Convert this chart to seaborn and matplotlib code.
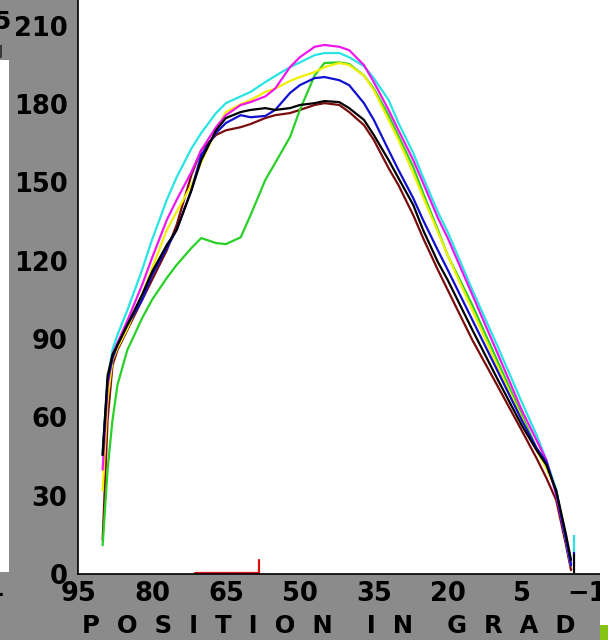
import numpy as np
import pandas as pd
import matplotlib
matplotlib.use("Agg")
import matplotlib.pyplot as plt
import seaborn as sns
from matplotlib.ticker import FixedLocator, MultipleLocator
from matplotlib.patches import Rectangle

# ---- data ----
position = [90, 89, 88, 87, 85, 82, 80, 77, 75, 72, 70, 67, 65, 62, 60, 57, 55, 52, 50,
            47, 45, 42, 40, 37, 35, 32, 30, 27, 25, 22, 20, 15, 10, 5, 2, 0, -2, -4, -5]

cyan = [47.5, 74, 86, 91.6, 101, 116.5, 128, 143.3, 152, 163, 169, 176.6, 180.4, 183, 184.7,
        188.5, 190.8, 194.2, 196, 198.8, 199.6, 199.6, 198, 194.6, 190, 181.6, 172.8, 161.3,
        152, 138.7, 131, 108.8, 87.7, 65.9, 53.3, 43.7, 32.2, 13, 3.4]
magenta = [40, 72, 84, 88.5, 97, 110.7, 121, 135.6, 143.3, 154, 162.4, 171.2, 175.8, 179.7,
           180.8, 183, 186, 194.2, 198, 202, 202.7, 202, 200.7, 195, 188.5, 177.8, 170,
           158.6, 149.8, 136.4, 128.7, 106.9, 85, 62.8, 51.3, 43.7, 30.3, 13, 3.4]
yellow = [32, 66.7, 82, 86.6, 94, 107, 117, 131.8, 138.7, 149, 157.8, 170, 177, 180, 181.6,
          184.7, 186, 188.9, 190.4, 192.3, 194.2, 195.8, 195, 191, 185.4, 174, 166.3, 153.6,
          144.4, 131, 122, 101, 80, 59.8, 47.5, 40.6, 32, 13, 3.4]
green = [11, 40, 59, 72.4, 85.8, 98, 105, 113.4, 118.4, 124.9, 128.7, 126.8, 126.4, 129,
         137.5, 151, 157.5, 167.4, 177.8, 191, 195.8, 196, 195.4, 191, 186, 175.8, 167.8,
         156, 146, 131.8, 122, 103, 82, 61, 48.3, 41.8, 32, 13, 3.4]
blue = [45.6, 74, 82.7, 87.7, 95.4, 105, 114.5, 124.9, 131.8, 147, 160.5, 169, 172.8, 175.8,
        175, 175.5, 177.8, 184.3, 187.3, 190, 190.4, 189.2, 187.3, 180.4, 174, 162.4, 154.8,
        144, 135.6, 124, 116.5, 97.3, 78.2, 59, 48.3, 42.9, 31.4, 13, 3.4]
black = [45.6, 76, 84, 87.7, 95.4, 107, 115.7, 126, 131.8, 147, 158.6, 170, 174.7, 177,
         177.8, 178.5, 177.8, 178.5, 179.7, 180.4, 181.2, 180.8, 178.5, 174, 168.2, 158.6,
         151.7, 141.4, 131.8, 119.5, 112.6, 93.5, 75, 57, 47.5, 41.8, 32, 15, 5.4]
maroon = [13, 59, 80, 85.8, 93.5, 105, 112.6, 124, 133.7, 152.9, 162.4, 168.2, 170, 171.2,
          172.4, 174.7, 175.8, 176.6, 177.8, 179.7, 180.4, 179.7, 177, 172, 166.3, 155.5,
          149, 137.5, 128.7, 116.5, 108.8, 89.6, 72.4, 55, 44.4, 36.8, 28.3, 11, 1.5]

red_x = [71.3, 58.3, 58.3]
red_y = [0.4, 0.4, 5.4]

end_x = -5.6
end_lo = [0.4, 7.5, 8.5]
end_hi = [7.5, 8.5, 15.0]
end_colors = ["#000000", "#1010d0", "#30e0e0"]

series_names = ["maroon", "green", "yellow", "cyan", "magenta", "blue", "black"]
series_values = [maroon, green, yellow, cyan, magenta, blue, black]
palette = {"cyan": "#28e4e4", "magenta": "#ee18ee", "yellow": "#f0f000",
           "green": "#28d028", "blue": "#1010d0", "black": "#000000",
           "maroon": "#7a0c0c"}

x_ticks = [95, 80, 65, 50, 35, 20, 5, -10]
y_ticks = [0, 30, 60, 90, 120, 150, 180, 210]
x_title = "P  O  S  I  T  I  O  N    I  N    G  R  A  D"

# ---- build long-form table ----
rows = []
for name, vals in zip(series_names, series_values):
    for p, v in zip(position, vals):
        rows.append((name, p, v))
df = pd.DataFrame(rows, columns=["series", "pos", "val"])

sns.set_style("white")
plt.rcParams['font.family'] = ['DejaVu Sans']

W, H = 608, 640
bg = "#8b8b8b"
fig = plt.figure(figsize=(W / 100, H / 100), dpi=100, facecolor=bg)
ax = fig.add_axes([78 / W, (H - 574) / H, (600 - 78) / W, 574 / H])
ax.set_facecolor("white")

sns.lineplot(data=df, x="pos", y="val", hue="series", palette=palette, sort=False,
             estimator=None, linewidth=1.6, legend=False, ax=ax)
ax.plot(red_x, red_y, color="#dd1010", linewidth=1.6)
ax.vlines([end_x] * len(end_lo), end_lo, end_hi, colors=end_colors, linewidth=1.6)

px_per_unit = 4.93
ax.set_xlim(95, 95 - (600 - 78) / px_per_unit)
ax.set_ylim(0, 574 * 30 / 78.3)

ax.xaxis.set_major_locator(FixedLocator(x_ticks))
ax.xaxis.set_minor_locator(MultipleLocator(5))
ax.yaxis.set_major_locator(FixedLocator(y_ticks))
ax.yaxis.set_minor_locator(MultipleLocator(15))

ax.tick_params(axis="y", which="major", direction="out", length=4.5, width=1,
               pad=3, labelsize=18.5, colors="black")
ax.tick_params(axis="y", which="minor", direction="out", length=2.5, width=1)
ax.tick_params(axis="x", which="both", direction="in", length=2.5, width=1,
               pad=5, labelsize=18.5, colors="black")
for lab in ax.get_xticklabels() + ax.get_yticklabels():
    lab.set_fontweight("bold")

for s in ["top", "right"]:
    ax.spines[s].set_visible(False)
for s in ["left", "bottom"]:
    ax.spines[s].set_color("black")
    ax.spines[s].set_linewidth(1.2)
ax.set_xlabel("")
ax.set_ylabel("")

fig.text(329 / W, 1 - 626 / H, x_title, ha="center", va="center",
         fontsize=17.5, fontweight="bold", color="black")

# cropped-edge artefacts of the reference
fig.patches.append(Rectangle((600 / W, 15 / H), 8 / W, 1, transform=fig.transFigure,
                             facecolor="white", edgecolor="none", zorder=10))
fig.patches.append(Rectangle((600 / W, 0), 8 / W, 15 / H, transform=fig.transFigure,
                             facecolor="#86c414", edgecolor="none", zorder=10))
fig.patches.append(Rectangle((0, (H - 572) / H), 9 / W, (572 - 60) / H,
                             transform=fig.transFigure, facecolor="white",
                             edgecolor="none", zorder=10))
fig.patches.append(Rectangle((0, (H - 58) / H), 2 / W, 13 / H,
                             transform=fig.transFigure, facecolor="#3a3a3a",
                             edgecolor="none", zorder=10))
fig.text(10 / W, 1 - 22 / H, "5", ha="right", va="center", fontsize=18,
         fontweight="bold", color="black")
fig.text(4 / W, 1 - 589 / H, "1", ha="right", va="center", fontsize=18,
         fontweight="bold", color="black")

fig.savefig("out.png", dpi=100, facecolor=bg)
